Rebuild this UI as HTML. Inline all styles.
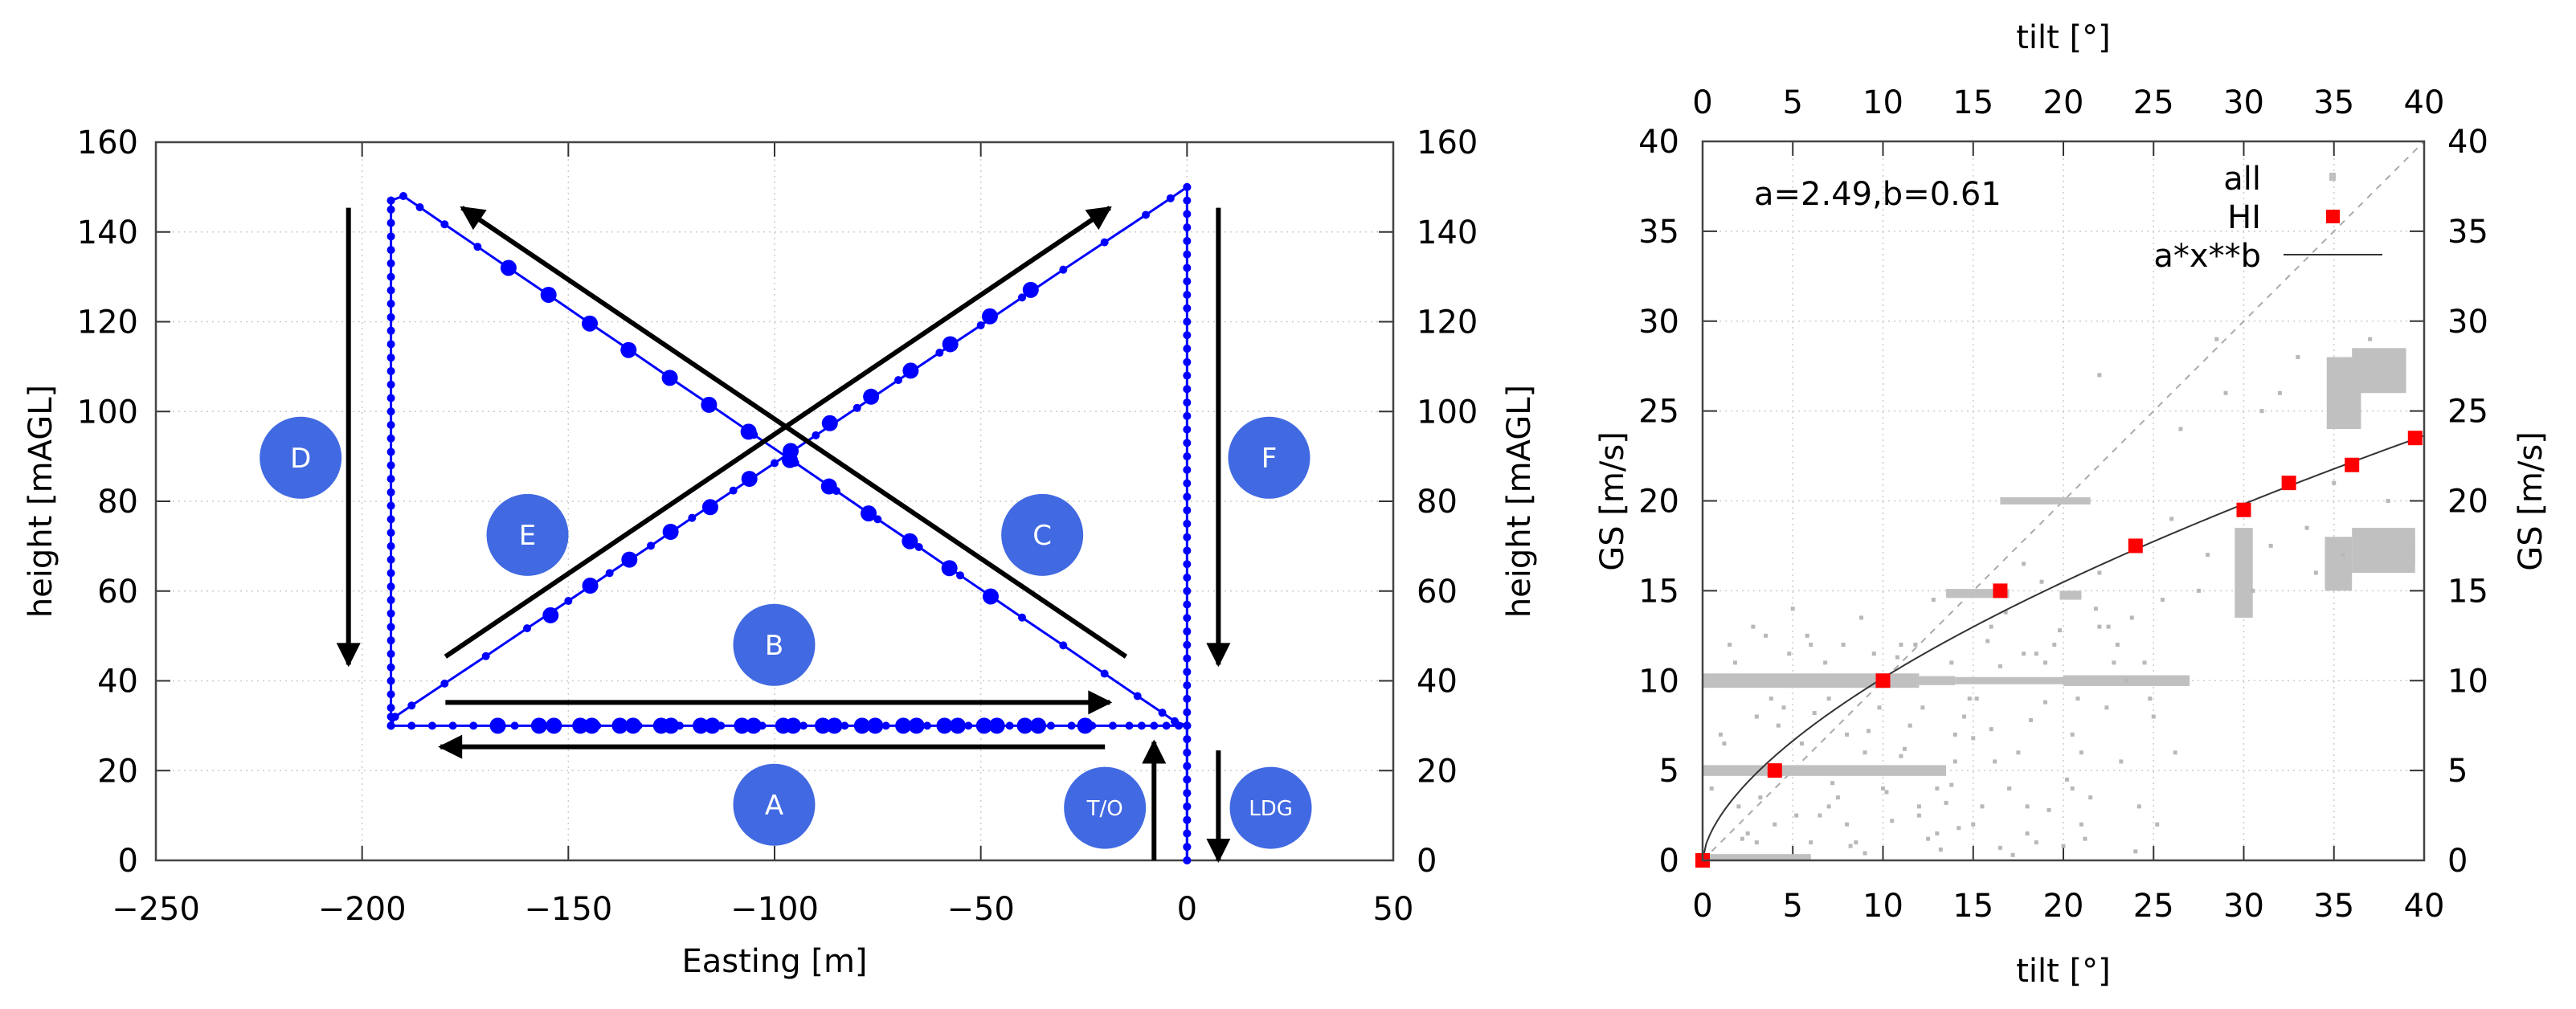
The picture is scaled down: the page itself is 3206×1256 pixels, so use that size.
<!DOCTYPE html>
<html><head><meta charset="utf-8"><style>
html,body{margin:0;padding:0;background:#fff}
svg text{font-family:"DejaVu Sans","Liberation Sans",sans-serif;fill:#000}
</style></head><body>
<svg id="fig" width="3206" height="1251" viewBox="0 0 3206 1251" xmlns="http://www.w3.org/2000/svg">
<defs>
<marker id="ah" viewBox="0 0 10 10" refX="9" refY="5" markerWidth="7" markerHeight="5" markerUnits="strokeWidth" orient="auto"><path d="M0,0 L10,5 L0,10 z" fill="#000"/></marker>
</defs>
<g id="left"></g>
<g id="right"></g>
</svg>
<script>
// ---------- LEFT CHART DATA ----------
const legTOy=[0,3,6,9,12,15,18,21,24,27,30];
const legFy=[150,147,144,141,138,135,132,129,126,123,120,117,114,111,108,105,102,99,96,93,90,87,84,81,78,75,72,69,66,63,60,57,54,51,48,45,42,39,36,33,30,27,24,21,18,15,12,9,6,3,0];
const legAx=[0,-2,-5,-8,-11,-14,-18,-23,-28,-33,-38,-43,-48,-53,-58,-63,-68,-73,-78,-83,-88,-93,-98,-103,-108,-113,-118,-123,-128,-133,-138,-143,-148,-153,-158,-163,-168,-173,-178,-183,-188,-193];
const legAy=30;
const legDy=[30,32,34,37,40,43,46,49,52,55,58,61,64,67,70,73,76,79,82,85,88,91,94,97,100,103,106,109,112,115,118,121,124,127,130,133,136,139,142,145,147];
const legDx=-193;
const legCx=[-193,-190,-186,-180,-172,-164.5,-155,-145,-135,-125,-115,-105,-95,-85,-75,-65,-55,-47,-40,-30,-20,-12,-6,-3,0];
const legCy=[147,148,145.5,141.7,136.7,132,126.1,119.8,113.6,107.3,101.1,94.8,88.6,82.3,76,69.8,63.5,58.5,54.1,47.9,41.6,36.6,32.9,31,30];
const legEx=[-193,-192,-188,-180,-170,-160,-150,-140,-130,-120,-110,-100,-90,-80,-70,-60,-50,-40,-30,-20,-10,-4,0];
const legEy=[30,32,34.5,39.4,45.5,51.7,57.8,64,70.1,76.3,82.4,88.5,94.7,100.8,107,113.1,119.2,125.4,131.6,137.7,143.8,147.5,150];
const bigAx=[-167.1,-157.1,-153.5,-147.1,-144.3,-137.5,-134.3,-127.5,-125.1,-117.9,-115.1,-107.9,-105.1,-97.9,-95.5,-88.3,-85.5,-78.8,-75.6,-68.8,-65.6,-58.8,-55.6,-49.2,-46.1,-39.3,-36.1,-24.7];
const bigCx=[-164.5,-154.8,-144.8,-135.4,-125.4,-115.9,-106.3,-96.3,-86.8,-77.2,-67.2,-57.6,-47.6];
const bigCy=[132,126,119.6,113.7,107.5,101.5,95.5,89.2,83.3,77.3,71.1,65.1,58.8];
const bigEx=[-154.3,-144.7,-135.2,-125.2,-115.6,-106.1,-96.1,-86.6,-76.6,-67,-57.4,-47.8,-37.9];
const bigEy=[54.6,61.2,67,73.2,78.7,85,91.2,97.4,103.3,109.1,115,121.2,127.1];
const lblText=["D","E","B","C","F","A","T/O","LDG"];
const lblX=[-214.9,-159.9,-100.1,-35.1,19.9,-100.1,-19.9,20.3];
const lblY=[89.7,72.5,48,72.5,89.7,12.4,11.7,11.7];
const arrX1=[-203.3,7.6,-14.8,-179.8,-179.8,-19.9,-8,7.6];
const arrY1=[145.4,145.4,45.4,45.4,35.2,25.3,0,24.5];
const arrX2=[-203.3,7.6,-175.8,-18.7,-18.7,-181,-8,7.6];
const arrY2=[43.6,43.6,145.4,145.4,35.2,25.3,26.4,0];
const lxTicks=[-250,-200,-150,-100,-50,0,50];
const lyTicks=[0,20,40,60,80,100,120,140,160];

// ---------- RIGHT CHART DATA ----------
const hiX=[0,4,10,16.5,24,30,32.5,36,39.5];
const hiY=[0,5,10,15,17.5,19.5,21,22,23.5];
const fitA=2.49, fitB=0.61;
const bandX0=[0,12,14,20,0,0,16.5,13.5,19.8,29.5,34.5,36,34.6,36,37.5];
const bandX1=[12,14,20,27,13.5,6,21.5,17,21,30.5,36,39.5,36.5,39,39.5];
const bandY0=[9.6,9.75,9.8,9.7,4.7,0,19.8,14.6,14.5,13.5,15,16,24,26,16.5];
const bandY1=[10.4,10.25,10.2,10.3,5.3,0.35,20.2,15.1,15,18.5,18,18.5,28,28.5,18];
const scX=[1,2,3,1.5,4,5,6,7,8,9,10,11,12,13,14,15,16,17,18,19,20,21,22,23,24,25,26,3.5,6.5,8.5,11.5,13,15.5,17.5,18.5,20.5,22.5,24.5,27.5,28.5,2.5,4.5,7.5,9.5,12.5,14.5,16.5,19.5,21.5,23.5,31,32,33,37,38,34,35,29,26.5,22,
 0.5,1.2,2.2,3.2,4.2,5.2,6.2,7.2,8.2,9.2,10.5,11.2,12.2,13.5,14.2,15.2,16.2,17.2,18.2,19.2,20.2,21.2,22.4,23.2,24.2,25.2,26.2,1.8,2.8,3.8,4.8,5.8,6.8,7.8,8.8,9.8,10.8,11.8,12.8,13.8,14.8,15.8,16.8,17.8,18.8,19.8,20.8,21.8,22.8,23.8,5.5,8,11,14,16,18,20.5,24.8,7,12,15,17,19,21,3,9,13.2,16.5,18.5,22,25.5,28,30.5,31.5,33.5,35.5,6,10.2,13.8,17.8];
const scY=[7,3,8,12,2,14,1,9,2,6,4,12,3,1.5,7,2,13,4,3,11,0.8,6,16,12,0.5,8,19,12.5,2.5,1,7.5,4,3,6,1,4,13,11,15,29,1.5,8.5,3.5,11.5,1.2,8,0.7,12,3.5,10,25,26,28,29,20,16,21,26,24,27,
 4,6.5,1.2,3.5,7.5,2.5,8.2,4.3,0.8,7.2,2.2,6.2,8.5,3.2,1.8,9,5.5,0.3,7.8,2.8,4.5,1.2,8.5,5.5,3,2,6,11,13,9,11.5,12.5,11,12,13.5,8.5,11.3,12,14.5,11,9,12.2,13.8,11.5,15.5,12.8,9,14,11,13.5,6.5,7,5.8,5.5,7.3,1.5,7,9,3,2.5,6.8,4,8.8,2,1,0.4,0.6,10.8,11.5,13,14.5,17,15,17.5,18.5,17,12,3.8,4.2,16.5];
const rxTicks=[0,5,10,15,20,25,30,35,40];
const ryTicks=[0,5,10,15,20,25,30,35,40];

const NS='http://www.w3.org/2000/svg';
function mk(p,t,a){const e=document.createElementNS(NS,t);for(const k in a)e.setAttribute(k,a[k]);p.appendChild(e);return e;}

// ---------- LEFT ----------
const L=document.getElementById('left');
const LX0=194,LX1=1734,LY0=177,LY1=1071;
const X=v=>LX0+(v+250)/300*(LX1-LX0);
const Y=v=>LY1-v/160*(LY1-LY0);
lxTicks.forEach(t=>{
  const g=mk(L,'line',{x1:X(t),x2:X(t),y1:LY0,y2:LY1,stroke:'#ccc','stroke-width':1.5,'stroke-dasharray':'2 5'});
  
  
  mk(L,'line',{x1:X(t),x2:X(t),y1:LY1,y2:LY1-18,stroke:'#333','stroke-width':2});
  mk(L,'line',{x1:X(t),x2:X(t),y1:LY0,y2:LY0+18,stroke:'#333','stroke-width':2});
  const tx=mk(L,'text',{x:X(t),y:1145,'font-size':40,'text-anchor':'middle'});tx.textContent=(t<0?'\u2212'+(-t):t);
  
  
});
lyTicks.forEach(t=>{
  const g=mk(L,'line',{x1:LX0,x2:LX1,y1:Y(t),y2:Y(t),stroke:'#ccc','stroke-width':1.5,'stroke-dasharray':'2 5'});
  
  
  mk(L,'line',{x1:LX0,x2:LX0+18,y1:Y(t),y2:Y(t),stroke:'#333','stroke-width':2});
  mk(L,'line',{x1:LX1,x2:LX1-18,y1:Y(t),y2:Y(t),stroke:'#333','stroke-width':2});
  const a=mk(L,'text',{x:172,y:Y(t)+14,'font-size':40,'text-anchor':'end'});a.textContent=t;
  
  
  const b=mk(L,'text',{x:1763,y:Y(t)+14,'font-size':40,'text-anchor':'start'});b.textContent=t;
  
  
});
const lf=mk(L,'rect',{x:LX0,y:LY0,width:LX1-LX0,height:LY1-LY0,fill:'none',stroke:'#444','stroke-width':2.5});


let t1=mk(L,'text',{x:964,y:1210,'font-size':40,'text-anchor':'middle'});t1.textContent='Easting [m]';


let t2=mk(L,'text',{x:0,y:0,'font-size':40,'text-anchor':'middle',transform:`translate(64,624) rotate(-90)`});t2.textContent='height [mAGL]';


let t3=mk(L,'text',{x:0,y:0,'font-size':40,'text-anchor':'middle',transform:`translate(1904,624) rotate(-90)`});t3.textContent='height [mAGL]';



function leg(xs,ys,name){
  const pts=xs.map((x,i)=>X(x)+','+Y(ys[i])).join(' ');
  const pl=mk(L,'polyline',{points:pts,fill:'none',stroke:'#0000ff','stroke-width':3});
  
  
  xs.forEach((x,i)=>{const c=mk(L,'circle',{cx:X(x),cy:Y(ys[i]),r:5,fill:'#0000ff'});
    
    });
}
leg(legTOy.map(()=>0),legTOy,'takeoff-leg');
leg(legFy.map(()=>0),legFy,'leg-f');
leg(legAx,legAx.map(()=>legAy),'leg-a');
leg(legDy.map(()=>legDx),legDy,'leg-d');
leg(legCx,legCy,'leg-c');
leg(legEx,legEy,'leg-e');
function big(xs,ys){xs.forEach((x,i)=>{const c=mk(L,'circle',{cx:X(x),cy:Y(ys[i]),r:10,fill:'#0000ff'});
  
  });}
big(bigAx,bigAx.map(()=>30));big(bigCx,bigCy);big(bigEx,bigEy);
arrX1.forEach((x,i)=>{const a=mk(L,'line',{x1:X(x),y1:Y(arrY1[i]),x2:X(arrX2[i]),y2:Y(arrY2[i]),stroke:'#000','stroke-width':6,'marker-end':'url(#ah)'});
  
  });
lblText.forEach((s,i)=>{
  const c=mk(L,'circle',{cx:X(lblX[i]),cy:Y(lblY[i]),r:51,fill:'#4169e1'});
  
  
  const fs=s.length>1?26:34;
  const t=mk(L,'text',{x:X(lblX[i]),y:Y(lblY[i])+fs*0.36,'font-size':fs,'text-anchor':'middle'});t.textContent=s;
  t.style.fill='#fff';
  
  
});

// ---------- RIGHT ----------
const R=document.getElementById('right');
const RX0=2119,RX1=3017,RY0=176,RY1=1071;
const RX=v=>RX0+v/40*(RX1-RX0);
const RY=v=>RY1-v/40*(RY1-RY0);
rxTicks.forEach(t=>{
  mk(R,'line',{x1:RX(t),x2:RX(t),y1:RY0,y2:RY1,stroke:'#ccc','stroke-width':1.5,'stroke-dasharray':'2 5'});
  mk(R,'line',{x1:RX(t),x2:RX(t),y1:RY1,y2:RY1-18,stroke:'#333','stroke-width':2});
  mk(R,'line',{x1:RX(t),x2:RX(t),y1:RY0,y2:RY0+18,stroke:'#333','stroke-width':2});
  const a=mk(R,'text',{x:RX(t),y:1141,'font-size':40,'text-anchor':'middle'});a.textContent=t;
  
  
  const b=mk(R,'text',{x:RX(t),y:141,'font-size':40,'text-anchor':'middle'});b.textContent=t;
  
  
});
ryTicks.forEach(t=>{
  mk(R,'line',{x1:RX0,x2:RX1,y1:RY(t),y2:RY(t),stroke:'#ccc','stroke-width':1.5,'stroke-dasharray':'2 5'});
  mk(R,'line',{x1:RX0,x2:RX0+18,y1:RY(t),y2:RY(t),stroke:'#333','stroke-width':2});
  mk(R,'line',{x1:RX1,x2:RX1-18,y1:RY(t),y2:RY(t),stroke:'#333','stroke-width':2});
  const a=mk(R,'text',{x:2090,y:RY(t)+14,'font-size':40,'text-anchor':'end'});a.textContent=t;
  
  
  const b=mk(R,'text',{x:3046,y:RY(t)+14,'font-size':40,'text-anchor':'start'});b.textContent=t;
  
  
});
let dg=mk(R,'line',{x1:RX(0),y1:RY(0),x2:RX(40),y2:RY(40),stroke:'#aaa','stroke-width':2,'stroke-dasharray':'8 8'});


bandX0.forEach((x,i)=>{const r=mk(R,'rect',{x:RX(x),y:RY(bandY1[i]),width:RX(bandX1[i])-RX(x),height:RY(bandY0[i])-RY(bandY1[i]),fill:'#c0c0c0'});
  
  });
scX.forEach((x,i)=>{if(scY[i]===undefined)return;const r=mk(R,'rect',{x:RX(x)-2.5,y:RY(scY[i])-2.5,width:5,height:5,fill:'#b8b8b8'});
  
  });
let fp=[];for(let i=0;i<=200;i++){const x=i*0.2;fp.push(RX(x)+','+RY(fitA*Math.pow(x,fitB)));}
let fit=mk(R,'polyline',{points:fp.join(' '),fill:'none',stroke:'#333','stroke-width':2});


hiX.forEach((x,i)=>{const r=mk(R,'rect',{x:RX(x)-9,y:RY(hiY[i])-9,width:18,height:18,fill:'#ff0000'});
  
  });
const rf=mk(R,'rect',{x:RX0,y:RY0,width:RX1-RX0,height:RY1-RY0,fill:'none',stroke:'#444','stroke-width':2.5});


let r1=mk(R,'text',{x:2568,y:1222,'font-size':40,'text-anchor':'middle'});r1.textContent='tilt [°]';


let r2=mk(R,'text',{x:2568,y:60,'font-size':40,'text-anchor':'middle'});r2.textContent='tilt [°]';


let r3=mk(R,'text',{x:0,y:0,'font-size':40,'text-anchor':'middle',transform:'translate(2020,624) rotate(-90)'});r3.textContent='GS [m/s]';


let r4=mk(R,'text',{x:0,y:0,'font-size':40,'text-anchor':'middle',transform:'translate(3163,624) rotate(-90)'});r4.textContent='GS [m/s]';


let r5=mk(R,'text',{x:2183,y:255,'font-size':40});r5.textContent='a=2.49,b=0.61';


let g1=mk(R,'text',{x:2814,y:236,'font-size':40,'text-anchor':'end'});g1.textContent='all';


mk(R,'rect',{x:2899,y:215,width:8,height:10,fill:'#c0c0c0'});
let g2=mk(R,'text',{x:2814,y:284,'font-size':40,'text-anchor':'end'});g2.textContent='HI';


mk(R,'rect',{x:2895,y:261,width:17,height:17,fill:'#ff0000'});
let g3=mk(R,'text',{x:2814,y:332,'font-size':40,'text-anchor':'end'});g3.textContent='a*x**b';


mk(R,'line',{x1:2842,x2:2965,y1:317,y2:317,stroke:'#333','stroke-width':2});
</script>
</body></html>
